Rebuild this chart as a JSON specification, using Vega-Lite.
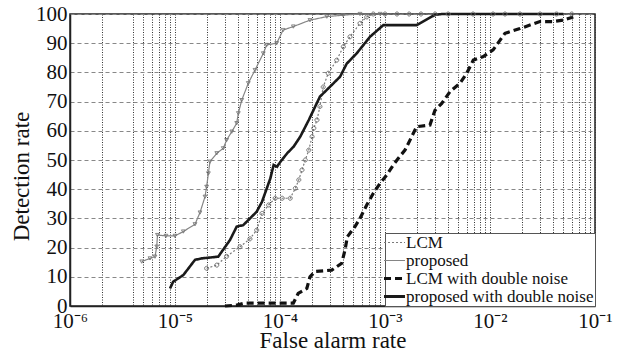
{
  "$schema": "https://vega.github.io/schema/vega-lite/v6.json",
  "width": 525,
  "height": 292,
  "autosize": {"type": "none"},
  "padding": {"left": 70, "right": 25, "top": 14, "bottom": 45},
  "background": "white",
  "config": {
    "font": "Liberation Serif",
    "view": {"stroke": "#222", "strokeWidth": 1.5},
    "legend": {
      "orient": "bottom-right",
      "offset": 0,
      "fillColor": "white",
      "strokeColor": "#555",
      "padding": 1,
      "rowPadding": 0,
      "labelFont": "Liberation Serif",
      "labelFontSize": 17,
      "labelColor": "#111",
      "labelOffset": 3,
      "labelLimit": 400,
      "symbolType": "stroke",
      "symbolSize": 440
    }
  },
  "datasets": {
    "roc": [
      {"series": "LCM", "far": 2.0e-5, "dr": 12.9},
      {"series": "LCM", "far": 2.5e-5, "dr": 14},
      {"series": "LCM", "far": 3.1e-5, "dr": 17},
      {"series": "LCM", "far": 4.16e-5, "dr": 20.3},
      {"series": "LCM", "far": 5.17e-5, "dr": 23},
      {"series": "LCM", "far": 6.0e-5, "dr": 26},
      {"series": "LCM", "far": 6.74e-5, "dr": 31.7},
      {"series": "LCM", "far": 7.8e-5, "dr": 34.6},
      {"series": "LCM", "far": 9.0e-5, "dr": 36.9},
      {"series": "LCM", "far": 1.05e-4, "dr": 36.9},
      {"series": "LCM", "far": 1.25e-4, "dr": 36.9},
      {"series": "LCM", "far": 1.4e-4, "dr": 40.3},
      {"series": "LCM", "far": 1.51e-4, "dr": 43.2},
      {"series": "LCM", "far": 1.62e-4, "dr": 46.6},
      {"series": "LCM", "far": 1.74e-4, "dr": 50},
      {"series": "LCM", "far": 1.88e-4, "dr": 53.4},
      {"series": "LCM", "far": 2.02e-4, "dr": 58},
      {"series": "LCM", "far": 2.1e-4, "dr": 60.9},
      {"series": "LCM", "far": 2.25e-4, "dr": 63.7},
      {"series": "LCM", "far": 2.4e-4, "dr": 68.3},
      {"series": "LCM", "far": 2.58e-4, "dr": 75},
      {"series": "LCM", "far": 2.88e-4, "dr": 79.7},
      {"series": "LCM", "far": 3.47e-4, "dr": 84.2},
      {"series": "LCM", "far": 4.01e-4, "dr": 88.8},
      {"series": "LCM", "far": 4.64e-4, "dr": 92.2},
      {"series": "LCM", "far": 5.78e-4, "dr": 96.8},
      {"series": "LCM", "far": 6.7e-4, "dr": 99},
      {"series": "LCM", "far": 7.74e-4, "dr": 100},
      {"series": "LCM", "far": 1.0e-3, "dr": 100},
      {"series": "LCM", "far": 1.3e-3, "dr": 100},
      {"series": "LCM", "far": 1.7e-3, "dr": 100},
      {"series": "LCM", "far": 2.2e-3, "dr": 100},
      {"series": "LCM", "far": 3.0e-3, "dr": 100},
      {"series": "LCM", "far": 4.0e-3, "dr": 100},
      {"series": "LCM", "far": 6.9e-3, "dr": 100},
      {"series": "LCM", "far": 1.07e-2, "dr": 100},
      {"series": "LCM", "far": 1.39e-2, "dr": 100},
      {"series": "LCM", "far": 1.93e-2, "dr": 100},
      {"series": "LCM", "far": 3.0e-2, "dr": 100},
      {"series": "LCM", "far": 4.3e-2, "dr": 100},
      {"series": "LCM", "far": 6.0e-2, "dr": 100},
      {"series": "proposed", "far": 4.82e-6, "dr": 15.2},
      {"series": "proposed", "far": 5.78e-6, "dr": 16.3},
      {"series": "proposed", "far": 6.45e-6, "dr": 16.9},
      {"series": "proposed", "far": 6.7e-6, "dr": 20.3},
      {"series": "proposed", "far": 6.81e-6, "dr": 24.3},
      {"series": "proposed", "far": 8.2e-6, "dr": 24},
      {"series": "proposed", "far": 1.0e-5, "dr": 24},
      {"series": "proposed", "far": 1.2e-5, "dr": 25.5},
      {"series": "proposed", "far": 1.55e-5, "dr": 28},
      {"series": "proposed", "far": 1.73e-5, "dr": 32},
      {"series": "proposed", "far": 1.93e-5, "dr": 37.4},
      {"series": "proposed", "far": 2.0e-5, "dr": 40.8},
      {"series": "proposed", "far": 2.08e-5, "dr": 45.4},
      {"series": "proposed", "far": 2.15e-5, "dr": 49.4},
      {"series": "proposed", "far": 2.5e-5, "dr": 52.3},
      {"series": "proposed", "far": 2.88e-5, "dr": 54},
      {"series": "proposed", "far": 3.1e-5, "dr": 56.8},
      {"series": "proposed", "far": 3.47e-5, "dr": 59.7},
      {"series": "proposed", "far": 3.87e-5, "dr": 62.6},
      {"series": "proposed", "far": 4.01e-5, "dr": 66},
      {"series": "proposed", "far": 4.32e-5, "dr": 70.5},
      {"series": "proposed", "far": 4.99e-5, "dr": 76.3},
      {"series": "proposed", "far": 5.78e-5, "dr": 80.8},
      {"series": "proposed", "far": 6.93e-5, "dr": 86.5},
      {"series": "proposed", "far": 7.47e-5, "dr": 89.4},
      {"series": "proposed", "far": 9.3e-5, "dr": 90},
      {"series": "proposed", "far": 1.07e-4, "dr": 94.5},
      {"series": "proposed", "far": 1.34e-4, "dr": 95.7},
      {"series": "proposed", "far": 1.93e-4, "dr": 97.9},
      {"series": "proposed", "far": 2.79e-4, "dr": 99.1},
      {"series": "proposed", "far": 4.0e-4, "dr": 99.6},
      {"series": "proposed", "far": 5.78e-4, "dr": 100},
      {"series": "proposed", "far": 9.0e-4, "dr": 100},
      {"series": "LCM with double noise", "far": 2.99e-5, "dr": 0},
      {"series": "LCM with double noise", "far": 3.89e-5, "dr": 0.3},
      {"series": "LCM with double noise", "far": 4.64e-5, "dr": 1},
      {"series": "LCM with double noise", "far": 1.34e-4, "dr": 1},
      {"series": "LCM with double noise", "far": 1.49e-4, "dr": 4.3},
      {"series": "LCM with double noise", "far": 1.61e-4, "dr": 5},
      {"series": "LCM with double noise", "far": 1.8e-4, "dr": 6},
      {"series": "LCM with double noise", "far": 1.93e-4, "dr": 10},
      {"series": "LCM with double noise", "far": 2.15e-4, "dr": 11.8},
      {"series": "LCM with double noise", "far": 2.68e-4, "dr": 12.1},
      {"series": "LCM with double noise", "far": 3.11e-4, "dr": 12.3},
      {"series": "LCM with double noise", "far": 3.87e-4, "dr": 14.6},
      {"series": "LCM with double noise", "far": 4.16e-4, "dr": 19.2},
      {"series": "LCM with double noise", "far": 4.38e-4, "dr": 23.7},
      {"series": "LCM with double noise", "far": 5.18e-4, "dr": 27.2},
      {"series": "LCM with double noise", "far": 5.78e-4, "dr": 30},
      {"series": "LCM with double noise", "far": 6.7e-4, "dr": 34.6},
      {"series": "LCM with double noise", "far": 7.74e-4, "dr": 38.6},
      {"series": "LCM with double noise", "far": 8.97e-4, "dr": 42},
      {"series": "LCM with double noise", "far": 1.04e-3, "dr": 44.9},
      {"series": "LCM with double noise", "far": 1.2e-3, "dr": 48.3},
      {"series": "LCM with double noise", "far": 1.34e-3, "dr": 50.6},
      {"series": "LCM with double noise", "far": 1.55e-3, "dr": 53.4},
      {"series": "LCM with double noise", "far": 1.73e-3, "dr": 56.8},
      {"series": "LCM with double noise", "far": 2.0e-3, "dr": 61.4},
      {"series": "LCM with double noise", "far": 2.68e-3, "dr": 62},
      {"series": "LCM with double noise", "far": 2.99e-3, "dr": 67},
      {"series": "LCM with double noise", "far": 3.47e-3, "dr": 69.4},
      {"series": "LCM with double noise", "far": 4.16e-3, "dr": 73.4},
      {"series": "LCM with double noise", "far": 5.18e-3, "dr": 76.3},
      {"series": "LCM with double noise", "far": 6.0e-3, "dr": 79.7},
      {"series": "LCM with double noise", "far": 6.93e-3, "dr": 84.2},
      {"series": "LCM with double noise", "far": 8.63e-3, "dr": 85.4},
      {"series": "LCM with double noise", "far": 1.07e-2, "dr": 87.7},
      {"series": "LCM with double noise", "far": 1.39e-2, "dr": 93.4},
      {"series": "LCM with double noise", "far": 1.93e-2, "dr": 95},
      {"series": "LCM with double noise", "far": 2.99e-2, "dr": 97.4},
      {"series": "LCM with double noise", "far": 4.0e-2, "dr": 97.4},
      {"series": "LCM with double noise", "far": 4.99e-2, "dr": 97.9},
      {"series": "LCM with double noise", "far": 6.21e-2, "dr": 99},
      {"series": "proposed with double noise", "far": 8.97e-6, "dr": 6},
      {"series": "proposed with double noise", "far": 9.6e-6, "dr": 8.3},
      {"series": "proposed with double noise", "far": 1.2e-5, "dr": 10.6},
      {"series": "proposed with double noise", "far": 1.55e-5, "dr": 15.8},
      {"series": "proposed with double noise", "far": 1.8e-5, "dr": 16.3},
      {"series": "proposed with double noise", "far": 2.58e-5, "dr": 16.9},
      {"series": "proposed with double noise", "far": 3.34e-5, "dr": 22.6},
      {"series": "proposed with double noise", "far": 3.87e-5, "dr": 27.2},
      {"series": "proposed with double noise", "far": 4.47e-5, "dr": 27.7},
      {"series": "proposed with double noise", "far": 6.0e-5, "dr": 32.3},
      {"series": "proposed with double noise", "far": 6.74e-5, "dr": 35.7},
      {"series": "proposed with double noise", "far": 8.09e-5, "dr": 43.7},
      {"series": "proposed with double noise", "far": 8.7e-5, "dr": 48.3},
      {"series": "proposed with double noise", "far": 9.36e-5, "dr": 47.7},
      {"series": "proposed with double noise", "far": 1.01e-4, "dr": 49.4},
      {"series": "proposed with double noise", "far": 1.17e-4, "dr": 52.3},
      {"series": "proposed with double noise", "far": 1.35e-4, "dr": 54.6},
      {"series": "proposed with double noise", "far": 1.56e-4, "dr": 58},
      {"series": "proposed with double noise", "far": 1.88e-4, "dr": 63.7},
      {"series": "proposed with double noise", "far": 2.4e-4, "dr": 71.7},
      {"series": "proposed with double noise", "far": 2.79e-4, "dr": 74},
      {"series": "proposed with double noise", "far": 3.73e-4, "dr": 78.5},
      {"series": "proposed with double noise", "far": 4.32e-4, "dr": 83},
      {"series": "proposed with double noise", "far": 5.37e-4, "dr": 86.5},
      {"series": "proposed with double noise", "far": 7.2e-4, "dr": 92.2},
      {"series": "proposed with double noise", "far": 9.64e-4, "dr": 96.2},
      {"series": "proposed with double noise", "far": 2.0e-3, "dr": 96.2},
      {"series": "proposed with double noise", "far": 2.99e-3, "dr": 99.7},
      {"series": "proposed with double noise", "far": 3.5e-3, "dr": 100},
      {"series": "proposed with double noise", "far": 5.0e-2, "dr": 100}
    ]
  },
  "data": {"name": "roc"},
  "encoding": {
    "x": {
      "field": "far",
      "type": "quantitative",
      "scale": {"type": "log", "domain": [1e-6, 0.1], "nice": false},
      "axis": {
        "title": "False alarm rate",
        "values": [1e-6, 2e-6, 4e-6, 5e-6, 6e-6, 7e-6, 8e-6, 9e-6,
                   1e-5, 2e-5, 3e-5, 4e-5, 5e-5, 6e-5, 7e-5, 8e-5, 9e-5,
                   1e-4, 2e-4, 3e-4, 4e-4, 5e-4, 6e-4, 7e-4, 8e-4, 9e-4,
                   0.001, 0.002, 0.003, 0.004, 0.005, 0.006, 0.007, 0.008, 0.009,
                   0.01, 0.02, 0.03, 0.04, 0.05, 0.06, 0.07, 0.08, 0.09, 0.1],
        "labelExpr": "datum.value == 1e-6 ? '10⁻⁶' : datum.value == 1e-5 ? '10⁻⁵' : datum.value == 1e-4 ? '10⁻⁴' : datum.value == 0.001 ? '10⁻³' : datum.value == 0.01 ? '10⁻²' : datum.value == 0.1 ? '10⁻¹' : ''",
        "grid": true,
        "gridColor": "#333",
        "gridDash": [1, 1.5],
        "gridWidth": 1,
        "ticks": false,
        "domainColor": "#222",
        "domainWidth": 1.5,
        "labelFont": "Liberation Serif",
        "labelFontSize": 21,
        "labelColor": "#111",
        "labelPadding": 4,
        "labelOverlap": false,
        "labelFlush": false,
        "titleFont": "Liberation Serif",
        "titleFontSize": 23,
        "titleFontWeight": "normal",
        "titleColor": "#111",
        "titlePadding": -2
      }
    },
    "y": {
      "field": "dr",
      "type": "quantitative",
      "scale": {"domain": [0, 100], "nice": false},
      "axis": {
        "title": "Detection rate",
        "values": [0, 10, 20, 30, 40, 50, 60, 70, 80, 90, 100],
        "grid": true,
        "gridColor": "#888",
        "gridDash": [4, 3],
        "gridWidth": 1,
        "ticks": false,
        "domainColor": "#222",
        "domainWidth": 1.5,
        "labelFont": "Liberation Serif",
        "labelFontSize": 21,
        "labelColor": "#111",
        "labelPadding": 3,
        "titleFont": "Liberation Serif",
        "titleFontSize": 23,
        "titleFontWeight": "normal",
        "titleColor": "#111",
        "titlePadding": 2,
        "titleY": 162
      }
    },
    "color": {
      "field": "series",
      "type": "nominal",
      "scale": {
        "domain": ["LCM", "proposed", "LCM with double noise", "proposed with double noise"],
        "range": ["#7a7a7a", "#858585", "#111111", "#1a1a1a"]
      },
      "legend": {
        "title": null,
        "encode": {
          "symbols": {
            "update": {
              "strokeWidth": {"signal": "datum.value == 'LCM with double noise' ? 3.2 : datum.value == 'proposed with double noise' ? 2.8 : 1.2"}
            }
          }
        }
      }
    },
    "strokeDash": {
      "field": "series",
      "type": "nominal",
      "scale": {
        "domain": ["LCM", "proposed", "LCM with double noise", "proposed with double noise"],
        "range": [[2, 2], [1, 0], [7, 4], [1, 0]]
      },
      "legend": {"title": null}
    }
  },
  "layer": [
    {
      "transform": [{"filter": "datum.series == 'LCM' || datum.series == 'proposed'"}],
      "mark": {"type": "line", "strokeWidth": 1.2}
    },
    {
      "transform": [{"filter": "datum.series == 'LCM with double noise'"}],
      "mark": {"type": "line", "strokeWidth": 3.2}
    },
    {
      "transform": [{"filter": "datum.series == 'proposed with double noise'"}],
      "mark": {"type": "line", "strokeWidth": 2.6}
    },
    {
      "transform": [{"filter": "datum.series == 'LCM'"}],
      "mark": {"type": "point", "shape": "circle", "filled": false, "size": 16, "strokeWidth": 1, "opacity": 1},
      "encoding": {"color": {"value": "#6a6a6a"}, "strokeDash": {"value": [1, 0]}}
    },
    {
      "transform": [{"filter": "datum.series == 'proposed'"}],
      "mark": {"type": "point", "shape": "triangle-down", "filled": false, "size": 14, "strokeWidth": 1, "opacity": 1},
      "encoding": {"color": {"value": "#777777"}, "strokeDash": {"value": [1, 0]}}
    }
  ]
}
